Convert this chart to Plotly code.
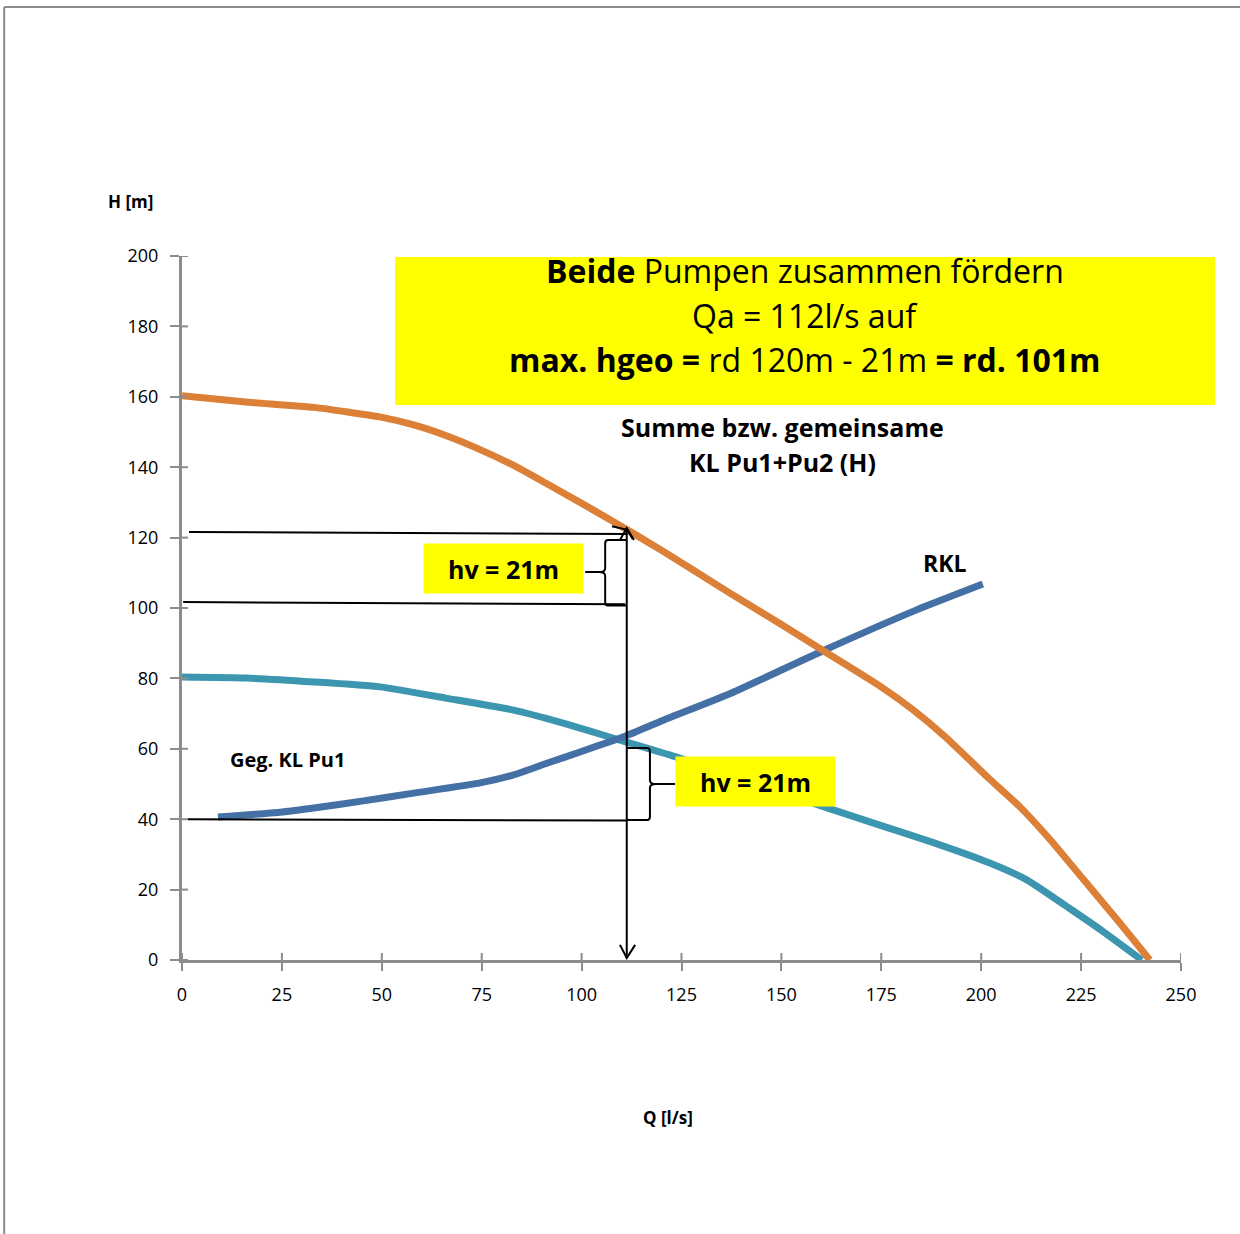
import plotly.graph_objects as go

## DATA
# Summe / gemeinsame Kennlinie Pu1+Pu2
q_sum = [0, 16, 33, 49.5, 58, 66, 74.6, 83, 91, 99.6, 108, 120.6, 137, 150, 161, 174.4, 183, 191, 202, 209.7, 217, 225.5, 234.7, 242.2]
h_sum = [160.3, 158.5, 157, 154.3, 152, 149, 145, 140.5, 135.5, 130, 124.5, 116, 104.3, 95.3, 87.5, 78, 71, 63.4, 51.5, 43.5, 34.5, 23, 10.5, 0]

# Kennlinie Pu1
q_pu1 = [0, 16, 33, 49.5, 66, 83, 95.4, 108, 123.6, 160.7, 174.4, 188.4, 202, 211.5, 222.7, 230, 240.2]
h_pu1 = [80.4, 80.1, 79, 77.6, 74.4, 71, 67.3, 63, 57.7, 43.5, 38.4, 33.2, 27.6, 22.7, 14.2, 8.5, 0]

# Rohrleitungskennlinie RKL
q_rkl = [9, 24.5, 33, 45.4, 58, 74.6, 83, 91.3, 99.6, 110.5, 120.6, 137.4, 160.7, 183.7, 200.4]
h_rkl = [40.6, 42, 43.2, 45.2, 47.4, 50.3, 52.6, 55.9, 59.1, 63.4, 68.2, 75.8, 88, 99.4, 106.8]

x_ticks = list(range(0, 251, 25))
y_ticks = list(range(0, 201, 20))

ORANGE = "#DC8038"
TEAL = "#3D96AF"
BLUE = "#4470A6"
AXIS = "#8C8C8C"
FONT = "Open Sans"

fig = go.Figure()
fig.add_trace(go.Scatter(x=q_pu1, y=h_pu1, mode="lines", name="Geg. KL Pu1",
                         line=dict(color=TEAL, width=7, shape="spline", smoothing=0.5)))
fig.add_trace(go.Scatter(x=q_rkl, y=h_rkl, mode="lines", name="RKL",
                         line=dict(color=BLUE, width=7, shape="spline", smoothing=0.5)))
fig.add_trace(go.Scatter(x=q_sum, y=h_sum, mode="lines", name="KL Pu1+Pu2",
                         line=dict(color=ORANGE, width=7, shape="spline", smoothing=0.5)))

shapes = []
blk = dict(color="black", width=2)

# outer frame (top + left)
shapes.append(dict(type="line", xref="paper", yref="paper", x0=-0.178, x1=1.06, y0=1.3537, y1=1.3537,
                   line=dict(color=AXIS, width=2)))
shapes.append(dict(type="line", xref="paper", yref="paper", x0=-0.178, x1=-0.178, y0=1.3537, y1=-0.39,
                   line=dict(color=AXIS, width=2)))

# yellow info box
shapes.append(dict(type="rect", xref="paper", yref="paper", x0=0.2132, x1=1.034, y0=0.7884, y1=0.9986,
                   fillcolor="#FFFF00", line=dict(width=0), layer="below"))

# inside halves of the crossing tick marks
for v in y_ticks:
    shapes.append(dict(type="line", xref="x", yref="y", xsizemode="pixel", xanchor=0, x0=0, x1=6,
                       y0=v, y1=v, line=dict(color=AXIS, width=2)))
for v in x_ticks:
    shapes.append(dict(type="line", xref="x", yref="y", ysizemode="pixel", yanchor=0, y0=0, y1=7,
                       x0=v, x1=v, line=dict(color=AXIS, width=2)))

# hand drawn helper lines
shapes.append(dict(type="line", x0=1.75, y0=121.6, x1=111.4, y1=121.0, line=blk))
shapes.append(dict(type="line", x0=0.3, y0=101.7, x1=110.9, y1=101.05, line=blk))
shapes.append(dict(type="line", x0=1.5, y0=40.0, x1=111.4, y1=39.6, line=blk))
shapes.append(dict(type="line", x0=111.3, y0=122.7, x1=111.3, y1=0.57, line=blk))
# arrow heads
shapes.append(dict(type="path", path="M 107.6,123.2 L 111.4,122.2 L 112.8,119.6", line=blk))
shapes.append(dict(type="path", path="M 109.6,119.3 L 111.3,122.7 L 113.1,119.3", line=blk))
shapes.append(dict(type="path", path="M 109.6,4.3 L 111.3,0.57 L 113.4,4.3", line=blk))
# braces
shapes.append(dict(type="path", line=blk,
                   path="M 111.3,119.3 L 106.6,119.3 Q 105.9,119.3 105.9,118.3 L 105.9,111.3 "
                        "Q 105.9,110.2 104.4,110.2 L 100.9,110.2 M 104.4,110.2 Q 105.9,110.2 105.9,109.1 "
                        "L 105.9,101.8 Q 105.9,100.7 106.6,100.7 L 111.3,100.7"))
shapes.append(dict(type="path", line=blk,
                   path="M 111.3,60.2 L 116.4,60.2 Q 117.1,60.2 117.1,59.2 L 117.1,51.1 "
                        "Q 117.1,50.0 118.6,50.0 L 123.4,50.0 M 118.6,50.0 Q 117.1,50.0 117.1,48.9 "
                        "L 117.1,40.8 Q 117.1,39.8 116.4,39.8 L 111.3,39.8"))

annotations = []


def txt(x, y, text, size, bold=False, ref="data", **kw):
    a = dict(x=x, y=y, text=f"<b>{text}</b>" if bold else text, showarrow=False,
             font=dict(family=FONT, size=size, color="black"), xanchor="center", yanchor="middle")
    if ref == "paper":
        a.update(xref="paper", yref="paper")
    a.update(kw)
    annotations.append(a)


txt(0.6236, 0.9787, "<b>Beide</b> Pumpen zusammen fördern", 32, ref="paper")
txt(0.6236, 0.9148, "Qa = 112l/s auf", 32, ref="paper")
txt(0.6236, 0.8523, "<b>max. hgeo =</b> rd 120m - 21m <b>= rd. 101m</b>", 32, ref="paper")
txt(150.2, 151.4, "Summe bzw. gemeinsame", 25, bold=True)
txt(150.2, 141.5, "KL Pu1+Pu2 (H)", 25, bold=True)
txt(190.9, 112.8, "RKL", 23, bold=True)
txt(26.5, 57.1, "Geg. KL Pu1", 20, bold=True)
txt(80.4, 111.2, "hv = 21m", 25, bold=True, bgcolor="#FFFF00", width=159, height=49, borderpad=0)
txt(143.4, 50.7, "hv = 21m", 25, bold=True, bgcolor="#FFFF00", width=159, height=49, borderpad=0)
txt(-0.052, 1.078, "H [m]", 17, bold=True, ref="paper")
txt(0.4865, -0.2244, "Q [l/s]", 17, bold=True, ref="paper")

fig.update_layout(
    width=1240, height=1234,
    margin=dict(l=182, r=59, t=256, b=274),
    paper_bgcolor="white", plot_bgcolor="white",
    showlegend=False,
    shapes=shapes, annotations=annotations,
    font=dict(family=FONT, size=18, color="black"),
)
fig.update_xaxes(range=[0, 250], tickvals=x_ticks, showgrid=False, zeroline=False,
                 showline=True, linecolor=AXIS, linewidth=3,
                 ticks="outside", ticklen=8, tickcolor=AXIS, tickwidth=2, ticklabelstandoff=8,
                 tickfont=dict(family=FONT, size=18, color="black"))
fig.update_yaxes(range=[0, 200], tickvals=y_ticks, showgrid=False, zeroline=False,
                 showline=True, linecolor=AXIS, linewidth=3,
                 ticks="outside", ticklen=9, tickcolor=AXIS, tickwidth=2, ticklabelstandoff=8,
                 tickfont=dict(family=FONT, size=18, color="black"))

# page without the browser's default body margin, no modebar
fig.write_html("out.html", config={"displayModeBar": False},
               post_script="document.body.style.margin = '0';")
